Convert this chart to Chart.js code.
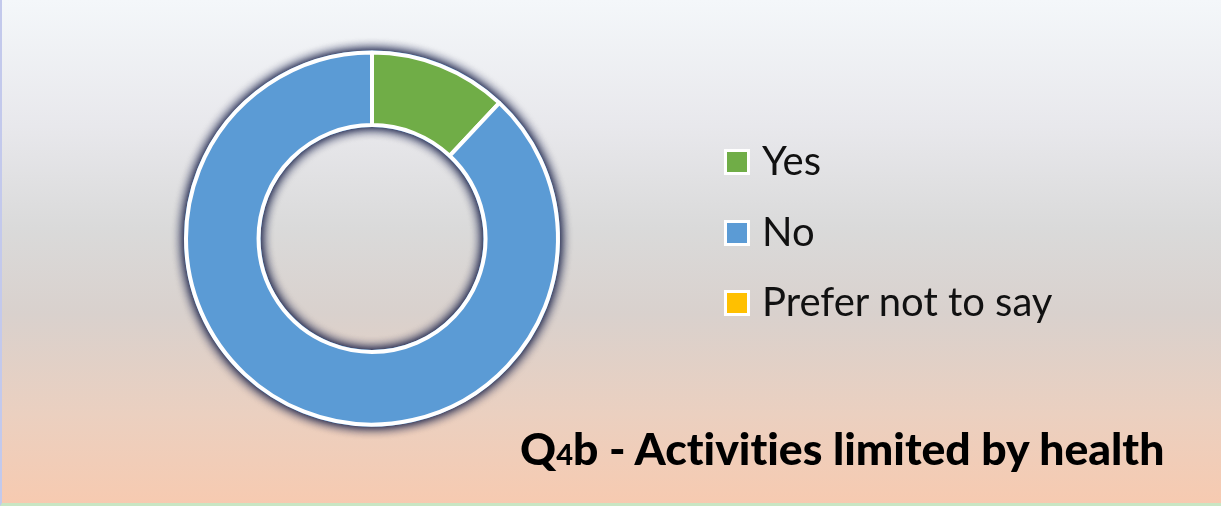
<!DOCTYPE html>
<html>
<head>
<meta charset="utf-8">
<script src="https://cdn.jsdelivr.net/npm/chart.js@4/dist/chart.umd.min.js"></script>
<style>
  html, body { margin: 0; padding: 0; }
  body {
    width: 1221px; height: 506px; overflow: hidden; position: relative;
    background: linear-gradient(to bottom, #f4f7fa 0%, #e8e8ec 25%, #dadada 45%, #d9d1cd 62%, #ebd0c0 82%, #f7cab0 100%);
  }
  #frame {
    position: absolute; left: 0; top: 0; width: 1221px; height: 506px; box-sizing: border-box;
    border-left: 2px solid #c3c9ec; border-bottom: 3px solid #c9e6c3;
  }
  #wrap { position: absolute; left: 0; top: 0; width: 1221px; height: 506px; }
  #legend { position: absolute; left: 724px; top: 136px; font-family: Lato, "Open Sans", sans-serif; font-size: 40px; color: #111; }
  .item { height: 70.5px; display: flex; align-items: flex-start; }
  .box { width: 20px; height: 20px; border: 3px solid #fff; margin-top: 13px; margin-right: 12px; box-sizing: content-box; }
  #title {
    position: absolute; left: 520px; top: 421px; white-space: nowrap;
    font-family: Lato, sans-serif; font-weight: 900; font-size: 44.5px; color: #000;
    font-variant-ligatures: none;
  }
  #title .sm { font-size: 29px; }
</style>
</head>
<body>
<div id="wrap"><canvas id="donut" width="1221" height="506"></canvas></div>
<div id="legend"></div>
<div id="title">Q<span class="sm">4</span>b - Activities limited by health</div>
<div id="frame"></div>
<script>
var labels = ["Yes", "No", "Prefer not to say"];
var values = [12, 88, 0];
var colors = ['#70AD47', '#5B9BD5', '#FFC000'];

// dark glow under the ring, drawn from the arc geometry
var ringShadow = {
  id: 'ringShadow',
  beforeDatasetsDraw: function (chart) {
    var arc = chart.getDatasetMeta(0).data[0];
    if (!arc || arc.innerRadius < 2) return;
    var ctx = chart.ctx;
    var x = arc.x, y = arc.y, r1 = arc.outerRadius + 2, r0 = arc.innerRadius - 2;
    ctx.save();
    ctx.shadowColor = 'rgba(20,28,70,1)';
    ctx.shadowBlur = 12;
    ctx.fillStyle = '#5B9BD5';
    for (var k = 0; k < 2; k++) {
      ctx.beginPath();
      ctx.arc(x, y, r1, 0, Math.PI * 2);
      ctx.arc(x, y, r0, 0, Math.PI * 2, true);
      ctx.fill('evenodd');
    }
    ctx.restore();
  }
};

new Chart(document.getElementById('donut'), {
  type: 'doughnut',
  data: {
    labels: labels,
    datasets: [{
      data: values,
      backgroundColor: colors,
      borderColor: '#fff',
      borderWidth: 4
    }]
  },
  options: {
    responsive: false,
    animation: false,
    cutout: '61%',
    layout: { padding: { left: 184, right: 661, top: 50, bottom: 79 } },
    plugins: {
      legend: { display: false },
      tooltip: { enabled: false }
    }
  },
  plugins: [ringShadow]
});

var legend = document.getElementById('legend');
labels.forEach(function (l, i) {
  var row = document.createElement('div');
  row.className = 'item';
  row.innerHTML = '<span class="box" style="background:' + colors[i] + '"></span><span>' + l + '</span>';
  legend.appendChild(row);
});
</script>
</body>
</html>
